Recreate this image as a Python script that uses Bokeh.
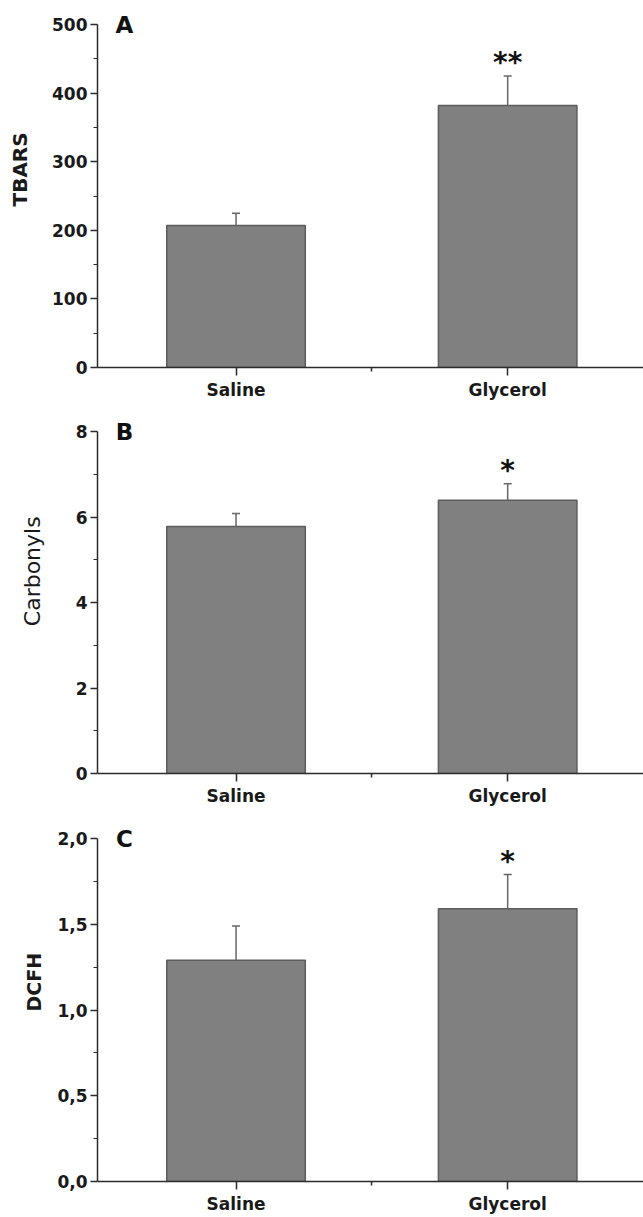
import math

from bokeh.core.properties import value
from bokeh.embed import file_html
from bokeh.layouts import column, row
from bokeh.models import ColumnDataSource, FixedTicker, Label, Range1d, TeeHead, Whisker
from bokeh.plotting import figure
from bokeh.resources import INLINE

# Treatment groups (x axis)
GROUPS = ["Saline", "Glycerol"]

# Panel A: lipid peroxidation
TBARS_MEAN = [207, 382]
TBARS_SEM = [18, 43]
TBARS_SIG = ["", "**"]
TBARS_TICKS = [0, 100, 200, 300, 400, 500]
TBARS_TICK_LABELS = ["0", "100", "200", "300", "400", "500"]

# Panel B: protein carbonyls
CARB_MEAN = [5.78, 6.39]
CARB_SEM = [0.30, 0.39]
CARB_SIG = ["", "*"]
CARB_TICKS = [0, 2, 4, 6, 8]
CARB_TICK_LABELS = ["0", "2", "4", "6", "8"]

# Panel C: DCFH oxidation
DCFH_MEAN = [1.29, 1.59]
DCFH_SEM = [0.20, 0.20]
DCFH_SIG = ["", "*"]
DCFH_TICKS = [0, 0.5, 1.0, 1.5, 2.0]
DCFH_TICK_LABELS = ["0,0", "0,5", "1,0", "1,5", "2,0"]

FONT = "DejaVu Sans"
AXIS_COLOR = "#2b2b2b"
BAR_FILL = "#808080"
BAR_LINE = "#5c5c5c"
ERR_COLOR = "#666666"
X_START, X_END = 0.49, 2.5
LEFT, WIDTH = 97, 643
SIDE = 48       # strip holding the vertical axis title
FRAME_PAD = 4   # frame starts this far below the figure top


def title_strip(text, bold, size, cx, cy, height):
    """Narrow figure carrying the rotated y-axis title (pixel coordinates)."""
    s = figure(width=SIDE, height=height,
               x_range=Range1d(0, SIDE), y_range=Range1d(height, 0),
               output_backend="svg", toolbar_location=None,
               x_axis_location=None, y_axis_location=None,
               min_border_left=0, min_border_right=0,
               min_border_top=0, min_border_bottom=0)
    s.grid.visible = False
    s.outline_line_color = None
    s.background_fill_color = "white"
    s.border_fill_color = "white"
    s.text(x=[cx], y=[cy], text=[text], angle=math.pi / 2,
           text_font=value(FONT), text_font_size=f"{size}px",
           text_font_style="bold" if bold else "normal",
           text_align="center", text_baseline="middle", text_color="#1a1a1a")
    return s


def panel(letter, means, sems, sig, ticks, tick_labels, height, top, bottom):
    ymax = ticks[-1]
    # the scale's top value sits `top` px below the figure edge; the frame
    # reaches higher so the panel letter and asterisks stay inside it
    span_px = height - top - bottom
    frame_px = height - FRAME_PAD - bottom
    px_per_unit = span_px / ymax
    y_end = ymax * frame_px / span_px

    p = figure(width=WIDTH - SIDE, height=height,
               x_range=Range1d(X_START, X_END), y_range=Range1d(0, y_end),
               output_backend="svg", toolbar_location=None,
               min_border_left=LEFT - SIDE, min_border_right=0,
               min_border_top=FRAME_PAD, min_border_bottom=bottom)
    p.grid.visible = False
    p.outline_line_color = None
    p.background_fill_color = "white"
    p.border_fill_color = "white"

    xs = [i + 1 for i in range(len(GROUPS))]
    uppers = [m + s for m, s in zip(means, sems)]
    sig_y = [u + 13 / px_per_unit for u in uppers]
    src = ColumnDataSource(dict(x=xs, mean=means, upper=uppers, sig=sig, sig_y=sig_y))

    p.vbar(x="x", top="mean", bottom=0, width=0.51, source=src,
           fill_color=BAR_FILL, line_color=BAR_LINE, line_width=1.5)

    err = Whisker(base="x", lower="mean", upper="upper", source=src,
                  line_color=ERR_COLOR, line_width=1.5, lower_head=None,
                  upper_head=TeeHead(size=8, line_color=ERR_COLOR, line_width=1.5),
                  level="overlay")
    p.add_layout(err)

    p.text(x="x", y="sig_y", text="sig", source=src,
           text_font=value(FONT), text_font_style="bold", text_font_size="28px",
           text_align="center", text_baseline="alphabetic", text_color="#111111")

    # y axis
    minors = [(a + b) / 2 for a, b in zip(ticks, ticks[1:])]
    ya = p.yaxis[0]
    ya.bounds = (0, ymax)
    ya.ticker = FixedTicker(ticks=ticks, minor_ticks=minors)
    ya.major_label_overrides = {t: lab for t, lab in zip(ticks, tick_labels)}
    ya.axis_line_color = AXIS_COLOR
    ya.axis_line_width = 1.5
    ya.major_tick_line_color = AXIS_COLOR
    ya.major_tick_line_width = 1.5
    ya.minor_tick_line_color = AXIS_COLOR
    ya.minor_tick_line_width = 1.2
    ya.major_tick_out = 7
    ya.major_tick_in = 0
    ya.minor_tick_out = 4
    ya.minor_tick_in = 0
    ya.major_label_standoff = 3
    ya.major_label_text_font = FONT
    ya.major_label_text_font_style = "bold"
    ya.major_label_text_font_size = "17px"
    ya.major_label_text_color = "#1a1a1a"

    # x axis
    xa = p.xaxis[0]
    xa.ticker = FixedTicker(ticks=xs, minor_ticks=[1.5])
    xa.major_label_overrides = {x: g for x, g in zip(xs, GROUPS)}
    xa.axis_line_color = AXIS_COLOR
    xa.axis_line_width = 1.5
    xa.major_tick_line_color = AXIS_COLOR
    xa.major_tick_line_width = 1.5
    xa.minor_tick_line_color = AXIS_COLOR
    xa.minor_tick_line_width = 1.5
    xa.major_tick_out = 8
    xa.major_tick_in = 0
    xa.minor_tick_out = 4
    xa.minor_tick_in = 0
    xa.major_label_standoff = 4
    xa.major_label_text_font = FONT
    xa.major_label_text_font_style = "bold"
    xa.major_label_text_font_size = "17px"
    xa.major_label_text_color = "#1a1a1a"

    # panel letter
    p.add_layout(Label(x=X_START, x_offset=27, y=ymax, text=letter,
                       text_align="center", text_baseline="middle",
                       text_font=FONT, text_font_size="23px",
                       text_font_style="bold", text_color="#111111"))
    return p


row_a = row(title_strip("TBARS", True, 20, 19, 184, 405),
            panel("A", TBARS_MEAN, TBARS_SEM, TBARS_SIG,
                  TBARS_TICKS, TBARS_TICK_LABELS, 405, 24, 38), spacing=0)
row_b = row(title_strip("Carbonyls", False, 22, 32, 180, 405),
            panel("B", CARB_MEAN, CARB_SEM, CARB_SIG,
                  CARB_TICKS, CARB_TICK_LABELS, 405, 26, 37), spacing=0)
row_c = row(title_strip("DCFH", True, 19, 33, 186, 407),
            panel("C", DCFH_MEAN, DCFH_SEM, DCFH_SIG,
                  DCFH_TICKS, DCFH_TICK_LABELS, 407, 28, 36), spacing=0)

layout = column(row_a, row_b, row_c, spacing=0)
open("out.html", "w").write(file_html(layout, INLINE))
